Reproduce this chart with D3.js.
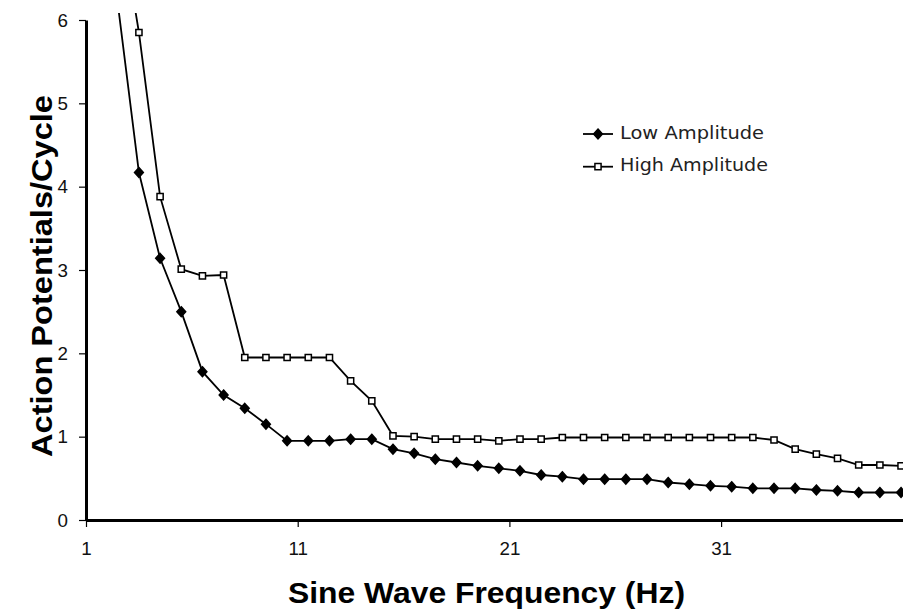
<!DOCTYPE html>
<head>
  <meta charset="UTF-8">
  <style>
    *{
      margin: 0px;
    }
    body{
      background-color: white;
    }
    svg{
      position: absolute;
      font-family: "Liberation Sans", Arial, sans-serif;
    }
    .title{
      font-size: 29px;
      font-weight: bold;
    }
    .legend text{
      font-family: "DejaVu Sans", sans-serif;
      font-size: 18px;
      fill: #222;
    }
  </style>
  <script src="https://d3js.org/d3.v7.min.js"></script>
</head>

<body>
  <svg id="chart" width="903" height="611"></svg>

  <script>
    // frequency category (Hz)
    var freq = [2, 3, 4, 5, 6, 7, 8, 9, 10, 11, 12, 13, 14, 15, 16, 17, 18, 19, 20,
      21, 22, 23, 24, 25, 26, 27, 28, 29, 30, 31, 32, 33, 34, 35, 36, 37, 38, 39];

    var lowAmp = [6.2, 4.17, 3.14, 2.50, 1.78, 1.50, 1.34, 1.15, 0.95, 0.95, 0.95, 0.97, 0.97,
      0.85, 0.80, 0.73, 0.69, 0.65, 0.62, 0.59, 0.54, 0.52, 0.49, 0.49, 0.49, 0.49,
      0.45, 0.43, 0.41, 0.40, 0.38, 0.38, 0.38, 0.36, 0.35, 0.33, 0.33, 0.33];

    var highAmp = [7.4, 5.85, 3.88, 3.01, 2.93, 2.94, 1.95, 1.95, 1.95, 1.95, 1.95, 1.67, 1.43,
      1.01, 1.00, 0.97, 0.97, 0.97, 0.95, 0.97, 0.97, 0.99, 0.99, 0.99, 0.99, 0.99,
      0.99, 0.99, 0.99, 0.99, 0.99, 0.96, 0.85, 0.79, 0.74, 0.66, 0.66, 0.65];

    var seriesNames = ["Low Amplitude", "High Amplitude"];
    var xTicks = [1, 11, 21, 31];
    var yTicks = [0, 1, 2, 3, 4, 5, 6];

    var svg = d3.select("#chart");

    // category axis: category c occupies [c, c+1), point sits in the middle
    var x = d3.scaleLinear().domain([1, 41]).range([86, 932.8]);
    var y = d3.scaleLinear().domain([0, 6]).range([520, 20]);

    // rotated square, like the spreadsheet diamond marker
    var diamond = {
      draw: function(ctx, size){
        var r = Math.sqrt(size / 2);
        ctx.moveTo(0, -r);
        ctx.lineTo(r * 0.9, 0);
        ctx.lineTo(0, r);
        ctx.lineTo(-r * 0.9, 0);
        ctx.closePath();
      }
    };

    var series = [
      {name: seriesNames[0], values: lowAmp, symbol: diamond, size: 48, fill: "black"},
      {name: seriesNames[1], values: highAmp, symbol: d3.symbolSquare, size: 38, fill: "white"}
    ];
    series.forEach(s => s.points = s.values.map((v, i) => ({f: freq[i], v: v})));

    svg.append("defs").append("clipPath")
      .attr("id", "clip")
      .append("rect")
      .attr("x", 80).attr("y", 13)
      .attr("width", 830).attr("height", 520);

    // axes
    svg.append("g")
      .attr("transform", "translate(0,520)")
      .call(d3.axisBottom(x).tickValues(xTicks).tickFormat(d3.format("d"))
        .tickSize(7).tickSizeOuter(0).tickPadding(15))
      .attr("font-size", 18.8)
      .attr("font-family", null)
      .call(g => g.select(".domain").attr("stroke-width", 3))
      .call(g => g.selectAll(".tick line").attr("stroke-width", 1.2));

    svg.append("g")
      .attr("transform", "translate(86,0)")
      .call(d3.axisLeft(y).tickValues(yTicks).tickFormat(d3.format("d"))
        .tickSize(7).tickSizeOuter(0).tickPadding(11))
      .attr("font-size", 18.8)
      .attr("font-family", null)
      .call(g => g.select(".domain").attr("stroke-width", 3))
      .call(g => g.selectAll(".tick line").attr("stroke-width", 1.2));

    svg.selectAll(".tick text").attr("fill", "#111");

    // series
    var line = d3.line()
      .x(d => x(d.f + 0.5))
      .y(d => y(d.v));

    var plot = svg.append("g").attr("clip-path", "url(#clip)");

    series.forEach(function(s){
      plot.append("path")
        .datum(s.points)
        .attr("d", line)
        .attr("fill", "none")
        .attr("stroke", "black")
        .attr("stroke-width", 1.8);

      plot.append("g")
        .selectAll("path")
        .data(s.points.filter(d => d.v <= 6))
        .enter()
        .append("path")
        .attr("transform", d => "translate(" + x(d.f + 0.5) + "," + y(d.v) + ")")
        .attr("d", d3.symbol().type(s.symbol).size(s.size))
        .attr("fill", s.fill)
        .attr("stroke", "black")
        .attr("stroke-width", 1.5);
    });

    // legend
    var legend = svg.append("g").attr("class", "legend");
    var item = legend.selectAll("g")
      .data(series)
      .enter()
      .append("g")
      .attr("transform", (d, i) => "translate(583," + (134 + i * 32.7) + ")");

    item.append("line")
      .attr("x1", 0).attr("x2", 30)
      .attr("stroke", "black")
      .attr("stroke-width", 1.8);

    item.append("path")
      .attr("transform", "translate(15,0)")
      .attr("d", d => d3.symbol().type(d.symbol).size(d.size)())
      .attr("fill", d => d.fill)
      .attr("stroke", "black")
      .attr("stroke-width", 1.5);

    item.append("text")
      .attr("x", 37)
      .attr("y", 4.5)
      .attr("textLength", (d, i) => i === 0 ? 144 : 148)
      .attr("lengthAdjust", "spacingAndGlyphs")
      .text(d => d.name);

    // axis titles
    svg.append("text")
      .attr("class", "title")
      .attr("x", 486.5)
      .attr("y", 603)
      .attr("text-anchor", "middle")
      .attr("textLength", 397)
      .attr("lengthAdjust", "spacingAndGlyphs")
      .text("Sine Wave Frequency (Hz)");

    svg.append("text")
      .attr("class", "title")
      .attr("transform", "translate(51.5,276) rotate(-90)")
      .attr("text-anchor", "middle")
      .attr("textLength", 362)
      .attr("lengthAdjust", "spacingAndGlyphs")
      .text("Action Potentials/Cycle");
  </script>
</body>
